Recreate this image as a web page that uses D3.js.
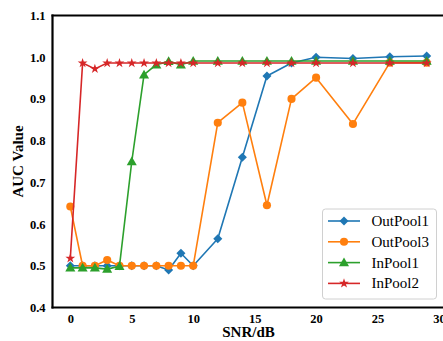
<!DOCTYPE html>
<html>
<head>
<meta charset="utf-8">
<script src="https://cdn.jsdelivr.net/npm/d3@7"></script>
<style>
  html, body { margin: 0; padding: 0; background: #fff; }
  svg { display: block; }
  text { font-family: "Liberation Serif", "Times New Roman", serif; }
</style>
</head>
<body>
<svg id="chart" width="443" height="341"></svg>
<script>
// SNR sweep (dB) and AUC per pooling variant
const snr = [0, 1, 2, 3, 4, 5, 6, 7, 8, 9, 10, 12, 14, 16, 18, 20, 23, 26, 29];
const outPool1 = [0.500, 0.500, 0.500, 0.500, 0.500, 0.500, 0.500, 0.500, 0.490, 0.530, 0.500, 0.565, 0.760, 0.955, 0.986, 1.000, 0.997, 1.001, 1.003];
const outPool3 = [0.642, 0.500, 0.500, 0.514, 0.500, 0.500, 0.500, 0.500, 0.500, 0.500, 0.500, 0.843, 0.891, 0.645, 0.900, 0.951, 0.840, 0.987, 0.987];
const inPool1  = [0.495, 0.495, 0.495, 0.492, 0.499, 0.750, 0.958, 0.982, 0.990, 0.982, 0.991, 0.991, 0.991, 0.991, 0.991, 0.991, 0.991, 0.991, 0.991];
const inPool2  = [0.518, 0.986, 0.972, 0.986, 0.986, 0.986, 0.986, 0.986, 0.986, 0.986, 0.986, 0.986, 0.986, 0.986, 0.986, 0.986, 0.986, 0.986, 0.986];

const seriesNames = ["OutPool1", "OutPool3", "InPool1", "InPool2"];
const seriesValues = [outPool1, outPool3, inPool1, inPool2];
const seriesColors = ["#1f77b4", "#ff7f0e", "#2ca02c", "#d62728"];
const seriesMarkers = ["diamond", "circle", "triangle", "star"];

const yTicks = [0.4, 0.5, 0.6, 0.7, 0.8, 0.9, 1.0, 1.1];
const xTicks = [0, 5, 10, 15, 20, 25, 30];

const svg = d3.select("#chart");
const margin = { left: 52.5, top: 15.5, right: 444.5, bottom: 307.5 };

const x = d3.scaleLinear().domain([-1.45, 30.45]).range([margin.left, margin.right]);
const y = d3.scaleLinear().domain([0.4, 1.1]).range([margin.bottom, margin.top]);

// marker shapes
const symbolFor = {
  diamond: d3.symbol().type(d3.symbolDiamond2).size(52),
  circle: d3.symbol().type(d3.symbolCircle).size(52),
  triangle: d3.symbol().type(d3.symbolTriangle).size(44),
  star: d3.symbol().type(d3.symbolStar).size(30)
};

const plot = svg.append("g");
const line = d3.line().x(d => x(d[0])).y(d => y(d[1]));

seriesValues.forEach((vals, i) => {
  const pts = snr.map((s, j) => [s, vals[j]]);
  const g = plot.append("g");
  g.append("path")
    .attr("d", line(pts))
    .attr("fill", "none")
    .attr("stroke", seriesColors[i])
    .attr("stroke-width", 1.6)
    .attr("stroke-linejoin", "round");
  g.selectAll("path.m").data(pts).join("path")
    .attr("class", "m")
    .attr("d", symbolFor[seriesMarkers[i]])
    .attr("transform", d => {
      const dy = seriesMarkers[i] === "triangle" ? 0.8 : 0;
      return `translate(${x(d[0])},${y(d[1]) + dy})`;
    })
    .attr("fill", seriesColors[i]);
});

// axes (labels only, no tick marks)
const yAxis = d3.axisLeft(y).tickValues(yTicks).tickFormat(d3.format(".1f")).tickSize(0).tickPadding(7);
const xAxis = d3.axisBottom(x).tickValues(xTicks).tickFormat(d3.format("d")).tickSize(0).tickPadding(6.5);

const gy = svg.append("g").attr("transform", `translate(${margin.left},0)`).call(yAxis);
const gx = svg.append("g").attr("transform", `translate(0,${margin.bottom})`).call(xAxis);
[gy, gx].forEach(g => {
  g.select(".domain").remove();
  g.selectAll("text")
    .attr("font-family", "'Liberation Serif', 'Times New Roman', serif")
    .attr("font-size", 12.5)
    .attr("font-weight", "bold")
    .attr("fill", "#000");
});

// spines
svg.append("line").attr("x1", margin.left).attr("x2", margin.left)
  .attr("y1", margin.top - 1).attr("y2", margin.bottom + 1)
  .attr("stroke", "#000").attr("stroke-width", 2.2);
svg.append("line").attr("x1", margin.left - 1).attr("x2", margin.right)
  .attr("y1", margin.top).attr("y2", margin.top)
  .attr("stroke", "#000").attr("stroke-width", 2.2);
svg.append("line").attr("x1", margin.left - 1).attr("x2", margin.right)
  .attr("y1", margin.bottom).attr("y2", margin.bottom)
  .attr("stroke", "#000").attr("stroke-width", 2.2);
svg.append("line").attr("x1", margin.right).attr("x2", margin.right)
  .attr("y1", margin.top).attr("y2", margin.bottom)
  .attr("stroke", "#000").attr("stroke-width", 2.2);

// axis titles
svg.append("text")
  .attr("transform", `translate(23,${(margin.top + margin.bottom) / 2}) rotate(-90)`)
  .attr("text-anchor", "middle")
  .attr("font-size", 15)
  .attr("font-weight", "bold")
  .text("AUC Value");
svg.append("text")
  .attr("x", (margin.left + margin.right) / 2)
  .attr("y", 337)
  .attr("text-anchor", "middle")
  .attr("font-size", 15)
  .attr("font-weight", "bold")
  .text("SNR/dB");

// legend
const legend = svg.append("g").attr("transform", "translate(322.5,209)");
legend.append("rect")
  .attr("width", 114).attr("height", 90)
  .attr("rx", 3).attr("ry", 3)
  .attr("fill", "#fff").attr("fill-opacity", 0.85)
  .attr("stroke", "#d0d0d0").attr("stroke-width", 1);
seriesNames.forEach((name, i) => {
  const row = legend.append("g").attr("transform", `translate(0,${12 + i * 20.8})`);
  row.append("line").attr("x1", 5.5).attr("x2", 37.5).attr("y1", 0).attr("y2", 0)
    .attr("stroke", seriesColors[i]).attr("stroke-width", 1.6);
  row.append("path")
    .attr("d", symbolFor[seriesMarkers[i]])
    .attr("transform", `translate(21.5,${seriesMarkers[i] === "triangle" ? 0.8 : 0})`)
    .attr("fill", seriesColors[i]);
  row.append("text")
    .attr("x", 49).attr("y", 5)
    .attr("font-size", 15)
    .text(name);
});
</script>
</body>
</html>
